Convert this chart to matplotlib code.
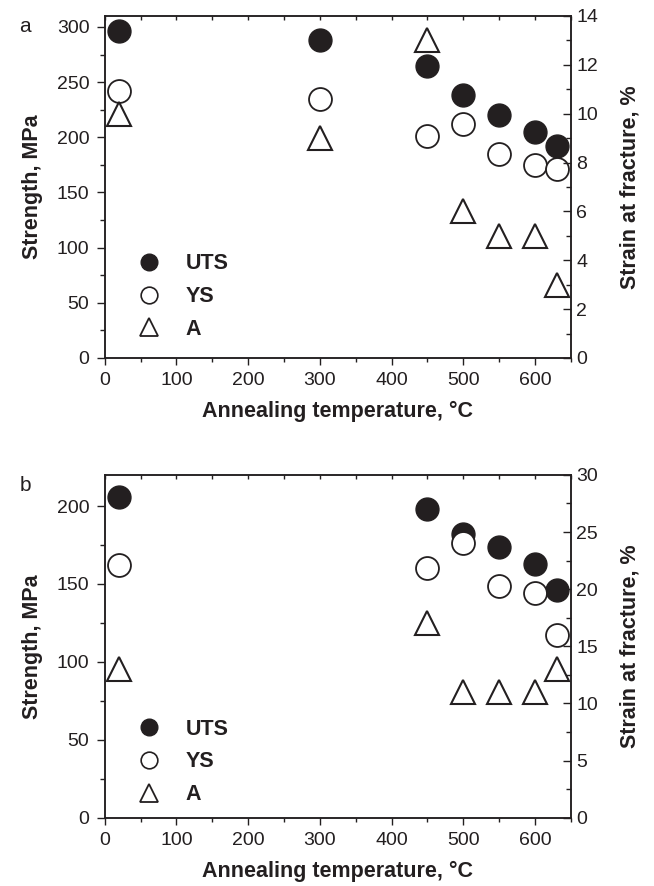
import numpy as np
import matplotlib
matplotlib.use("Agg")
import matplotlib.pyplot as plt
from matplotlib.lines import Line2D
from matplotlib.ticker import MultipleLocator

plt.rcParams['font.family'] = ['Liberation Sans', 'DejaVu Sans']

# panel a
temp_a = [20, 300, 450, 500, 550, 600, 630]
uts_a = [296, 288, 265, 238, 220, 205, 192]
ys_a = [242, 235, 201, 212, 185, 175, 171]
elong_a = [10, 9, 13, 6, 5, 5, 3]

# panel b
temp_b = [20, 450, 500, 550, 600, 630]
uts_b = [206, 198, 182, 174, 163, 146]
ys_b = [162, 160, 176, 149, 144, 117]
elong_b = [13, 17, 11, 11, 11, 13]

TICK = 14
LAB = 15.5
INK = '#231f20'

fig = plt.figure(figsize=(6.54, 8.86), dpi=100)


def panel(rect, temp, uts, ys, elong, ymax, ymaj, ymin_, rmax, rmaj, rmin_, letter, leg_y):
    ax = fig.add_axes(rect)
    ax2 = ax.twinx()
    ax.plot(temp, uts, 'o', ms=16.5, mfc=INK, mec=INK, zorder=3)
    ax.plot(temp, ys, 'o', ms=16.5, mfc='white', mec=INK, mew=1.3, zorder=3)
    ax2.plot(temp, elong, '^', ms=17.5, mfc='white', mec=INK, mew=1.5, zorder=3)
    ax.set_xlim(0, 650)
    ax.set_ylim(0, ymax)
    ax2.set_ylim(0, rmax)
    ax.xaxis.set_major_locator(MultipleLocator(100))
    ax.xaxis.set_minor_locator(MultipleLocator(50))
    ax.yaxis.set_major_locator(MultipleLocator(ymaj))
    ax.yaxis.set_minor_locator(MultipleLocator(ymin_))
    ax2.yaxis.set_major_locator(MultipleLocator(rmaj))
    ax2.yaxis.set_minor_locator(MultipleLocator(rmin_))
    ax.tick_params(axis='y', which='major', direction='out', length=6, width=1,
                   labelsize=TICK, colors=INK, pad=5)
    ax.tick_params(axis='y', which='minor', direction='out', length=3.5, width=1, colors=INK)
    ax.tick_params(axis='x', which='major', direction='out', length=5, width=1,
                   labelsize=TICK, colors=INK, pad=5, top=True)
    ax.tick_params(axis='x', which='minor', direction='out', length=3, width=1, colors=INK,
                   top=True)
    ax2.tick_params(which='major', direction='in', length=6, width=1, labelsize=TICK,
                    colors=INK, pad=4)
    ax2.tick_params(which='minor', direction='in', length=3.5, width=1, colors=INK)
    # top ticks point inward
    for t in ax.xaxis.get_major_ticks() + ax.xaxis.get_minor_ticks():
        t.tick2line.set_marker(3)
        t.tick2line.set_markersize(3)
    for a in (ax, ax2):
        for s in a.spines.values():
            s.set_linewidth(1.1)
            s.set_color(INK)
    ax.set_ylabel('Strength, MPa', fontsize=LAB, fontweight='bold', labelpad=10, color=INK)
    ax2.set_ylabel('Strain at fracture, %', fontsize=LAB, fontweight='bold', labelpad=15,
                   color=INK)
    ax.set_xlabel('Annealing temperature, °C', fontsize=LAB, fontweight='bold', labelpad=9,
                  color=INK)
    fig.text(0.03, rect[1] + rect[3] - 0.012, letter, fontsize=15, color=INK, va='center')
    handles = [
        Line2D([], [], ls='none', marker='o', ms=12, mfc=INK, mec=INK),
        Line2D([], [], ls='none', marker='o', ms=12, mfc='white', mec=INK, mew=1.2),
        Line2D([], [], ls='none', marker='^', ms=12.5, mfc='white', mec=INK, mew=1.3),
    ]
    leg = ax.legend(handles, ['UTS', 'YS', 'A'], loc='lower left',
                    bbox_to_anchor=(0.007, leg_y), frameon=False,
                    prop={'weight': 'bold', 'size': LAB}, labelspacing=0.55,
                    handletextpad=0.72)
    for t in leg.get_texts():
        t.set_color(INK)
    return ax


panel([0.160, 0.596, 0.713, 0.386], temp_a, uts_a, ys_a, elong_a,
      310, 50, 25, 14, 2, 1, 'a', -0.004)
panel([0.160, 0.077, 0.713, 0.387], temp_b, uts_b, ys_b, elong_b,
      220, 50, 25, 30, 5, 2.5, 'b', -0.02)

fig.savefig('out.png', dpi=100)
